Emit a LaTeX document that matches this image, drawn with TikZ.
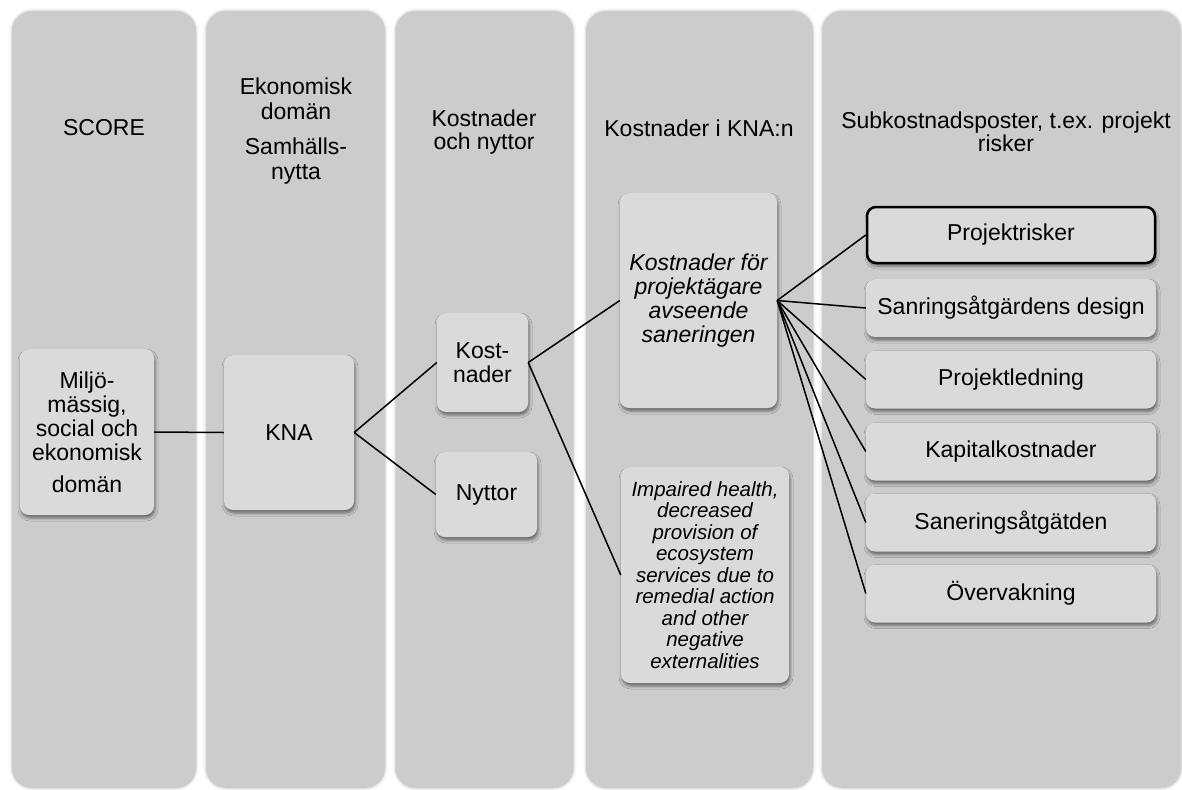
\documentclass[tikz,border=0pt]{standalone}
\usepackage{fontspec}
\setmainfont{Liberation Sans}
\usetikzlibrary{shadows.blur}

\definecolor{colfill}{HTML}{CCCCCC}
\definecolor{boxfill}{HTML}{DADADA}

\tikzset{
  column/.style={rectangle, rounded corners=20pt, fill=colfill, inner sep=0pt,
    blur shadow={shadow xshift=0pt, shadow yshift=0pt, shadow blur radius=3pt, shadow opacity=25}},
  headtext/.style={align=center, inner sep=0pt, font=\fontsize{23}{23.5}\selectfont},
  itembox/.style={rectangle, rounded corners=9pt, fill=boxfill, inner sep=0pt, align=center,
    font=\fontsize{23}{24}\selectfont,
    blur shadow={shadow xshift=1pt, shadow yshift=-3pt, shadow blur radius=3pt, shadow opacity=50}},
  slanted/.style={font=\fontsize{23}{24}\selectfont\itshape},
  smallslanted/.style={font=\fontsize{20.5}{21.5}\selectfont\itshape},
  link/.style={draw=black, line width=1.5pt},
}

\begin{document}
\begin{tikzpicture}[x=1pt, y=-1pt]
  \useasboundingbox (0,0) rectangle (1182,789);

  % five vertical columns
  \node[column, minimum width=184pt, minimum height=777pt] (col1) at (104,399.5) {};
  \node[column, minimum width=179pt, minimum height=777pt] (col2) at (295.5,399.5) {};
  \node[column, minimum width=178pt, minimum height=777pt] (col3) at (484.5,399.5) {};
  \node[column, minimum width=227pt, minimum height=777pt] (col4) at (699.5,399.5) {};
  \node[column, minimum width=359pt, minimum height=777pt] (col5) at (1001.5,399.5) {};

  % column headings
  \node[headtext] (h1) at (104,128) {SCORE};
  \node[headtext, font=\fontsize{23}{25}\selectfont] (h2) at (296,131)
    {Ekonomisk\\domän\\[10pt]Samhälls-\\nytta};
  \node[headtext] (h3) at (484,132) {Kostnader\\och nyttor};
  \node[headtext] (h4) at (699,128) {Kostnader i KNA:n};
  \node[headtext] (h5) at (1006,132) {Subkostnadsposter, t.ex. projekt\\risker};

  % hierarchy boxes
  \node[itembox, minimum width=134pt, minimum height=166pt] (miljo) at (87,432)
    {Miljö-\\mässig,\\social och\\ekonomisk\\[8pt]domän};
  \node[itembox, minimum width=130pt, minimum height=155pt] (kna) at (289,432.5) {KNA};
  \node[itembox, minimum width=91pt, minimum height=99pt] (kost) at (482.5,362.5) {Kost-\\nader};
  \node[itembox, minimum width=101pt, minimum height=85pt] (nytt) at (486.5,494.5) {Nyttor};
  \node[itembox, slanted, minimum width=157pt, minimum height=215pt] (kfor) at (698.5,300.5)
    {Kostnader för\\projektägare\\avseende\\saneringen};
  \node[itembox, smallslanted, minimum width=168pt, minimum height=216pt] (imp) at (705,575)
    {Impaired health,\\decreased\\provision of\\ecosystem\\services due to\\remedial action\\and other\\negative\\externalities};

  \node[itembox, draw=black, line width=2.5pt, minimum width=288pt, minimum height=56pt] (r1) at (1011,235) {Projektrisker};
  \node[itembox, minimum width=290pt, minimum height=58pt] (r2) at (1011,308) {Sanringsåtgärdens design};
  \node[itembox, minimum width=290pt, minimum height=58pt] (r3) at (1011,379.5) {Projektledning};
  \node[itembox, minimum width=290pt, minimum height=58pt] (r4) at (1011,451.5) {Kapitalkostnader};
  \node[itembox, minimum width=290pt, minimum height=58pt] (r5) at (1011,522.5) {Saneringsåtgätden};
  \node[itembox, minimum width=290pt, minimum height=58pt] (r6) at (1011,593.5) {Övervakning};

  % connectors
  \draw[link] (miljo.east) -- (kna.west);
  \draw[link] (kna.east) -- (kost.west);
  \draw[link] (kna.east) -- (nytt.west);
  \draw[link] (kost.east) -- (kfor.west);
  \draw[link] (kost.east) -- (imp.west);
  \foreach \r in {r1,r2,r3,r4,r5,r6}
    \draw[link] (kfor.east) -- (\r.west);
\end{tikzpicture}
\end{document}
